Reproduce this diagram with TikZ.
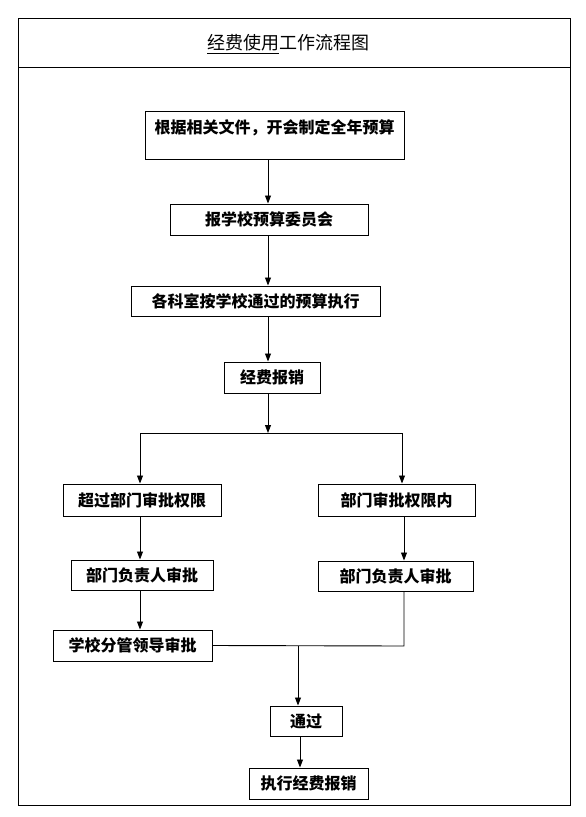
\documentclass[tikz,border=0pt]{standalone}
\usepackage{fontspec}
\newfontfamily\cjk{Noto Sans CJK SC}
\usetikzlibrary{arrows.meta}
\begin{document}
\begin{tikzpicture}[x=1pt,y=-1pt,
  box/.style={draw,line width=1pt,inner sep=0pt,font=\cjk\fontsize{16}{18}\selectfont\bfseries},
  arr/.style={line width=0.9pt,-{Triangle[width=6pt,length=8pt]}},
  ln/.style={line width=0.9pt}]
\useasboundingbox (0,0) rectangle (586,817);
\draw[line width=1pt] (18,18) rectangle (570,805);
\draw[line width=1pt] (18,67) -- (570,67);
\node[font=\cjk\fontsize{18}{20}\selectfont] (title) at (288,44) {\underline{经费使用}工作流程图};
% boxes
\node[box,anchor=north,minimum width=259pt,text height=22pt,text depth=26pt] (b1) at (274.5,111) {根据相关文件，开会制定全年预算};
\node[box,minimum width=198pt,minimum height=31pt] (b2) at (269,219.5) {报学校预算委员会};
\node[box,minimum width=249pt,minimum height=30pt] (b3) at (255.5,301) {各科室按学校通过的预算执行};
\node[box,minimum width=96pt,minimum height=31pt] (b4) at (272,377.5) {经费报销};
\node[box,minimum width=158pt,minimum height=32pt] (b5) at (142,500) {超过部门审批权限};
\node[box,minimum width=157pt,minimum height=32pt] (b6) at (396.5,500) {部门审批权限内};
\node[box,minimum width=142pt,minimum height=30pt] (b7) at (142,575) {部门负责人审批};
\node[box,minimum width=155pt,minimum height=30pt] (b8) at (395.5,576) {部门负责人审批};
\node[box,minimum width=159pt,minimum height=31pt] (b9) at (132.5,645.5) {学校分管领导审批};
\node[box,minimum width=72pt,minimum height=30pt] (b10) at (306,721) {通过};
\node[box,minimum width=119pt,minimum height=31pt] (b11) at (308.5,783.5) {执行经费报销};
% coordinates
\coordinate (j1) at (268,433);
\coordinate (jl) at (140,433);
\coordinate (jr) at (402,433);
\coordinate (c8) at (404,646);
\coordinate (jm) at (298,646);
% connectors
\draw[arr] (b1.south -| 268,0) -- (b2.north -| 268,0);
\draw[arr] (b2.south -| 268,0) -- (b3.north -| 268,0);
\draw[arr] (b3.south -| 268,0) -- (b4.north -| 268,0);
\draw[arr] (b4.south -| j1) -- (j1);
\draw[ln] (jl) -- (jr);
\draw[arr] (jl) -- (b5.north -| jl);
\draw[arr] (jr) -- (b6.north -| jr);
\draw[arr] (b5.south -| 140,0) -- (b7.north -| 140,0);
\draw[arr] (b6.south -| 404,0) -- (b8.north -| 404,0);
\draw[arr] (b7.south -| 140,0) -- (b9.north -| 140,0);
\draw[ln] (b9.east) -- (c8) -- (b8.south -| c8);
\draw[arr] (jm) -- (b10.north -| jm);
\draw[arr] (b10.south -| 300,0) -- (b11.north -| 300,0);
\end{tikzpicture}
\end{document}
